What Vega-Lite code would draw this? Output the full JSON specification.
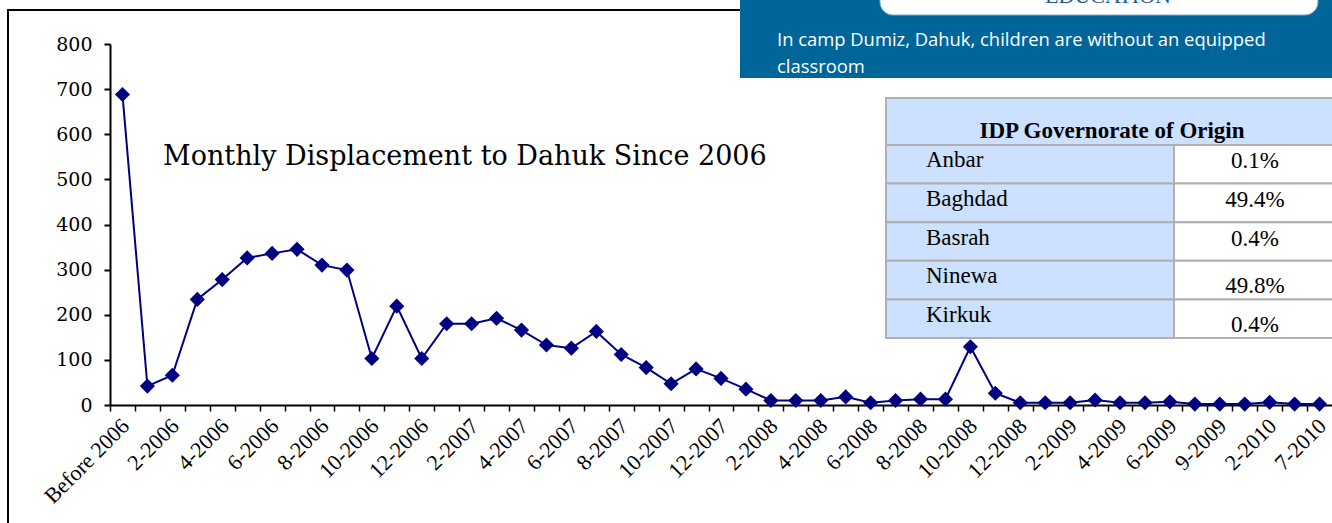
{
  "$schema": "https://vega.github.io/schema/vega-lite/v6.json",
  "width": 1222,
  "height": 361,
  "autosize": "none",
  "padding": {"left": 110, "top": 44, "right": 0, "bottom": 118},
  "background": "white",
  "config": {"view": {"stroke": null}},
  "datasets": {
    "displacement": [
      {"month": "Before 2006", "idps": 688},
      {"month": "1-2006", "idps": 42},
      {"month": "2-2006", "idps": 66},
      {"month": "3-2006", "idps": 234},
      {"month": "4-2006", "idps": 278},
      {"month": "5-2006", "idps": 326},
      {"month": "6-2006", "idps": 336},
      {"month": "7-2006", "idps": 345},
      {"month": "8-2006", "idps": 310},
      {"month": "9-2006", "idps": 299},
      {"month": "10-2006", "idps": 103},
      {"month": "11-2006", "idps": 219},
      {"month": "12-2006", "idps": 103},
      {"month": "1-2007", "idps": 180},
      {"month": "2-2007", "idps": 180},
      {"month": "3-2007", "idps": 192},
      {"month": "4-2007", "idps": 166},
      {"month": "5-2007", "idps": 133},
      {"month": "6-2007", "idps": 126},
      {"month": "7-2007", "idps": 163},
      {"month": "8-2007", "idps": 112},
      {"month": "9-2007", "idps": 83},
      {"month": "10-2007", "idps": 47},
      {"month": "11-2007", "idps": 80},
      {"month": "12-2007", "idps": 59},
      {"month": "1-2008", "idps": 35},
      {"month": "2-2008", "idps": 10},
      {"month": "3-2008", "idps": 10},
      {"month": "4-2008", "idps": 10},
      {"month": "5-2008", "idps": 18},
      {"month": "6-2008", "idps": 5},
      {"month": "7-2008", "idps": 10},
      {"month": "8-2008", "idps": 13},
      {"month": "9-2008", "idps": 13},
      {"month": "10-2008", "idps": 129},
      {"month": "11-2008", "idps": 26},
      {"month": "12-2008", "idps": 5},
      {"month": "1-2009", "idps": 5},
      {"month": "2-2009", "idps": 5},
      {"month": "3-2009", "idps": 11},
      {"month": "4-2009", "idps": 5},
      {"month": "5-2009", "idps": 5},
      {"month": "6-2009", "idps": 7},
      {"month": "7-2009", "idps": 2},
      {"month": "9-2009", "idps": 2},
      {"month": "12-2009", "idps": 2},
      {"month": "2-2010", "idps": 6},
      {"month": "5-2010", "idps": 2},
      {"month": "7-2010", "idps": 2}
    ],
    "origin": [
      {"name": "Anbar", "pct": "0.1%"},
      {"name": "Baghdad", "pct": "49.4%"},
      {"name": "Basrah", "pct": "0.4%"},
      {"name": "Ninewa", "pct": "49.8%"},
      {"name": "Kirkuk", "pct": "0.4%"}
    ]
  },
  "layer": [
    {
      "data": {"values": [{}]},
      "mark": {"type": "rect", "fillOpacity": 0, "stroke": "black", "strokeWidth": 2},
      "encoding": {
        "x": {"datum": 8, "type": "quantitative", "scale": {"domain": [110, 1332], "nice": false, "zero": false}, "axis": null},
        "x2": {"datum": 1345},
        "y": {"datum": 10, "type": "quantitative", "scale": {"domain": [44, 405], "reverse": true, "nice": false, "zero": false}, "axis": null},
        "y2": {"datum": 540}
      }
    },
    {
      "data": {"name": "displacement"},
      "mark": {
        "type": "line",
        "color": "#000080",
        "strokeWidth": 2,
        "point": {"shape": "diamond", "size": 230, "filled": true, "color": "#000080", "opacity": 1}
      },
      "encoding": {
        "x": {
          "field": "month",
          "type": "ordinal",
          "sort": null,
          "scale": {"type": "point", "padding": 0.5},
          "axis": {
            "title": null,
            "grid": false,
            "domainColor": "black",
            "domainWidth": 2,
            "tickColor": "black",
            "tickWidth": 1.5,
            "tickSize": 6,
            "tickOffset": -12.47,
            "labelOffset": 8,
            "labelAngle": -45,
            "labelAlign": "right",
            "labelBaseline": "top",
            "labelFont": "Liberation Serif",
            "labelFontSize": 22,
            "labelColor": "black",
            "labelPadding": 4,
            "labelOverlap": false,
            "labelBound": false,
            "labelExpr": "indexof(['Before 2006','2-2006','4-2006','6-2006','8-2006','10-2006','12-2006','2-2007','4-2007','6-2007','8-2007','10-2007','12-2007','2-2008','4-2008','6-2008','8-2008','10-2008','12-2008','2-2009','4-2009','6-2009','9-2009','2-2010','7-2010'], datum.value) >= 0 ? datum.label : ''"
          }
        },
        "y": {
          "field": "idps",
          "type": "quantitative",
          "scale": {"domain": [0, 800], "nice": false},
          "axis": {
            "title": null,
            "grid": false,
            "values": [0, 100, 200, 300, 400, 500, 600, 700, 800],
            "domainColor": "black",
            "domainWidth": 2,
            "tickColor": "black",
            "tickWidth": 2,
            "tickSize": 6,
            "labelFont": "DejaVu Serif",
            "labelFontSize": 19,
            "labelColor": "black",
            "labelPadding": 12
          }
        }
      }
    },
    {
      "data": {"values": [{}]},
      "mark": {"type": "text", "align": "left", "baseline": "alphabetic", "font": "DejaVu Serif", "fontSize": 27, "color": "black", "text": "Monthly Displacement to Dahuk Since 2006"},
      "encoding": {
        "x": {"datum": 163, "type": "quantitative", "scale": {"domain": [110, 1332], "nice": false, "zero": false}, "axis": null},
        "y": {"datum": 165, "type": "quantitative", "scale": {"domain": [44, 405], "reverse": true, "nice": false, "zero": false}, "axis": null}
      }
    },
    {
      "data": {"values": [{}]},
      "mark": {"type": "rect", "fill": "#006699"},
      "encoding": {
        "x": {"datum": 740, "type": "quantitative", "scale": {"domain": [110, 1332], "nice": false, "zero": false}, "axis": null},
        "x2": {"datum": 1345},
        "y": {"datum": -10, "type": "quantitative", "scale": {"domain": [44, 405], "reverse": true, "nice": false, "zero": false}, "axis": null},
        "y2": {"datum": 78}
      }
    },
    {
      "data": {"values": [{}]},
      "mark": {"type": "rect", "fill": "white", "stroke": "#7fa8c8", "strokeWidth": 1, "cornerRadius": 13},
      "encoding": {
        "x": {"datum": 880, "type": "quantitative", "scale": {"domain": [110, 1332], "nice": false, "zero": false}, "axis": null},
        "x2": {"datum": 1318},
        "y": {"datum": -30, "type": "quantitative", "scale": {"domain": [44, 405], "reverse": true, "nice": false, "zero": false}, "axis": null},
        "y2": {"datum": 15}
      }
    },
    {
      "data": {"values": [{}]},
      "mark": {"type": "text", "align": "center", "baseline": "alphabetic", "font": "Liberation Serif", "fontSize": 22, "color": "#1b5a8a", "text": "EDUCATION"},
      "encoding": {
        "x": {"datum": 1108, "type": "quantitative", "scale": {"domain": [110, 1332], "nice": false, "zero": false}, "axis": null},
        "y": {"datum": 3, "type": "quantitative", "scale": {"domain": [44, 405], "reverse": true, "nice": false, "zero": false}, "axis": null}
      }
    },
    {
      "data": {"values": [{"line": "In camp Dumiz, Dahuk, children are without an equipped", "k": 0}, {"line": "classroom", "k": 1}]},
      "mark": {"type": "text", "align": "left", "baseline": "alphabetic", "font": "Open Sans", "fontSize": 18.4, "color": "white"},
      "encoding": {
        "x": {"datum": 777, "type": "quantitative", "scale": {"domain": [110, 1332], "nice": false, "zero": false}, "axis": null},
        "y": {"field": "k", "type": "ordinal", "scale": {"type": "point", "range": [2, 29], "padding": 0}, "axis": null},
        "text": {"field": "line"}
      }
    },
    {
      "data": {"values": [{}]},
      "mark": {"type": "rect", "fill": "#cce0ff", "stroke": "#b0b0b0", "strokeWidth": 2},
      "encoding": {
        "x": {"datum": 886, "type": "quantitative", "scale": {"domain": [110, 1332], "nice": false, "zero": false}, "axis": null},
        "x2": {"datum": 1345},
        "y": {"datum": 98, "type": "quantitative", "scale": {"domain": [44, 405], "reverse": true, "nice": false, "zero": false}, "axis": null},
        "y2": {"datum": 145}
      }
    },
    {
      "data": {"values": [{}]},
      "mark": {"type": "text", "align": "center", "baseline": "alphabetic", "font": "Liberation Serif", "fontSize": 23, "fontWeight": "bold", "color": "black", "text": "IDP Governorate of Origin"},
      "encoding": {
        "x": {"datum": 1112, "type": "quantitative", "scale": {"domain": [110, 1332], "nice": false, "zero": false}, "axis": null},
        "y": {"datum": 138, "type": "quantitative", "scale": {"domain": [44, 405], "reverse": true, "nice": false, "zero": false}, "axis": null}
      }
    },
    {
      "data": {"name": "origin"},
      "mark": {"type": "rect", "fill": "#cce0ff", "stroke": "#b0b0b0", "strokeWidth": 2},
      "encoding": {
        "x": {"datum": 886, "type": "quantitative", "scale": {"domain": [110, 1332], "nice": false, "zero": false}, "axis": null},
        "x2": {"datum": 1174},
        "y": {"field": "name", "type": "nominal", "sort": null, "scale": {"type": "band", "domain": ["Anbar", "Baghdad", "Basrah", "Ninewa", "Kirkuk"], "range": [101, 294], "paddingInner": 0, "paddingOuter": 0}, "axis": null}
      }
    },
    {
      "data": {"name": "origin"},
      "mark": {"type": "rect", "fill": "white", "stroke": "#b0b0b0", "strokeWidth": 2},
      "encoding": {
        "x": {"datum": 1174, "type": "quantitative", "scale": {"domain": [110, 1332], "nice": false, "zero": false}, "axis": null},
        "x2": {"datum": 1345},
        "y": {"field": "name", "type": "nominal", "sort": null, "scale": {"type": "band", "domain": ["Anbar", "Baghdad", "Basrah", "Ninewa", "Kirkuk"], "range": [101, 294], "paddingInner": 0, "paddingOuter": 0}, "axis": null}
      }
    },
    {
      "data": {"name": "origin"},
      "mark": {"type": "text", "align": "left", "baseline": "alphabetic", "dy": 3, "font": "Liberation Serif", "fontSize": 23, "color": "black"},
      "encoding": {
        "x": {"datum": 926, "type": "quantitative", "scale": {"domain": [110, 1332], "nice": false, "zero": false}, "axis": null},
        "y": {"field": "name", "type": "nominal", "sort": null, "scale": {"type": "band", "domain": ["Anbar", "Baghdad", "Basrah", "Ninewa", "Kirkuk"], "range": [101, 294], "paddingInner": 0, "paddingOuter": 0}, "axis": null},
        "text": {"field": "name"}
      }
    },
    {
      "data": {"name": "origin"},
      "transform": [{"filter": "indexof(['Anbar','Baghdad','Basrah'], datum.name) >= 0"}],
      "mark": {"type": "text", "align": "center", "baseline": "alphabetic", "dy": 4, "font": "Liberation Serif", "fontSize": 23, "color": "black"},
      "encoding": {
        "x": {"datum": 1255, "type": "quantitative", "scale": {"domain": [110, 1332], "nice": false, "zero": false}, "axis": null},
        "y": {"field": "name", "type": "nominal", "sort": null, "scale": {"type": "band", "domain": ["Anbar", "Baghdad", "Basrah", "Ninewa", "Kirkuk"], "range": [101, 294], "paddingInner": 0, "paddingOuter": 0}, "axis": null},
        "text": {"field": "pct"}
      }
    },
    {
      "data": {"name": "origin"},
      "transform": [{"filter": "indexof(['Ninewa','Kirkuk'], datum.name) >= 0"}],
      "mark": {"type": "text", "align": "center", "baseline": "alphabetic", "dy": 13, "font": "Liberation Serif", "fontSize": 23, "color": "black"},
      "encoding": {
        "x": {"datum": 1255, "type": "quantitative", "scale": {"domain": [110, 1332], "nice": false, "zero": false}, "axis": null},
        "y": {"field": "name", "type": "nominal", "sort": null, "scale": {"type": "band", "domain": ["Anbar", "Baghdad", "Basrah", "Ninewa", "Kirkuk"], "range": [101, 294], "paddingInner": 0, "paddingOuter": 0}, "axis": null},
        "text": {"field": "pct"}
      }
    }
  ],
  "resolve": {"scale": {"x": "independent", "y": "independent"}}
}
